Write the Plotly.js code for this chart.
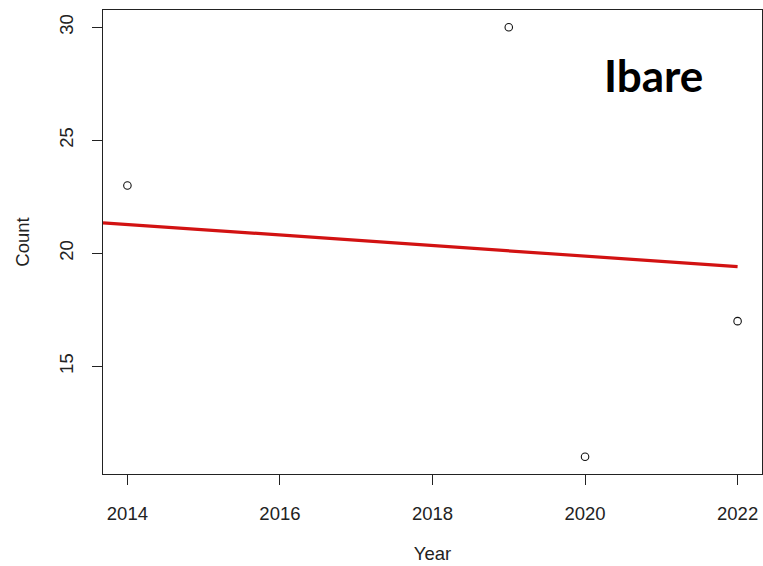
<!DOCTYPE html>
<html>
<head>
<meta charset="utf-8">
<script src="https://cdn.plot.ly/plotly-3.0.1.min.js"></script>
<style>html,body{margin:0;padding:0;background:#fff;}#chart{width:763px;height:566px;}</style>
</head>
<body>
<div id="chart"></div>
<script>
// Observed counts
const years = [2014, 2019, 2020, 2022];
const counts = [23, 30, 11, 17];
// Fitted trend line
const trendYears = [2013.68, 2022];
const trendCounts = [21.35, 19.41];
// Ticks
const xTicks = [2014, 2016, 2018, 2020, 2022];
const yTicks = [15, 20, 25, 30];
const siteLabel = "Ibare";

const traces = [
  {
    x: trendYears, y: trendCounts, mode: 'lines', type: 'scatter',
    line: {color: 'rgb(210,18,18)', width: 3.2}, hoverinfo: 'skip', showlegend: false
  },
  {
    x: years, y: counts, mode: 'markers', type: 'scatter',
    marker: {symbol: 'circle-open', size: 7.5, color: '#111', line: {width: 1.1, color: '#111'}},
    showlegend: false, cliponaxis: false
  }
];

const axisFont = {family: 'Liberation Sans, Arial, sans-serif', size: 18.5, color: '#222'};

const layout = {
  width: 763, height: 566,
  margin: {l: 103, r: 1, t: 10, b: 92},
  paper_bgcolor: '#fff', plot_bgcolor: '#fff',
  showlegend: false,
  xaxis: {
    range: [2013.68, 2022.32],
    tickvals: xTicks, ticktext: xTicks.map(String),
    ticks: 'outside', ticklen: 10, tickwidth: 1, tickcolor: '#222',
    showgrid: false, zeroline: false,
    showline: true, linecolor: '#222', linewidth: 1, mirror: true,
    tickfont: axisFont, ticklabelstandoff: 13,
    title: {text: 'Year', font: axisFont, standoff: 23}
  },
  yaxis: {
    range: [10.24, 30.76],
    tickvals: yTicks, ticktext: yTicks.map(String),
    ticks: 'outside', ticklen: 10, tickwidth: 1, tickcolor: '#222',
    tickangle: -90,
    showgrid: false, zeroline: false,
    showline: true, linecolor: '#222', linewidth: 1, mirror: true,
    tickfont: axisFont, ticklabelstandoff: 12,
    title: {text: 'Count', font: axisFont, standoff: 21}
  },
  annotations: [{
    text: '<b>' + siteLabel + '</b>',
    xref: 'paper', yref: 'paper',
    x: 0.836, y: 0.86, xanchor: 'center', yanchor: 'middle',
    showarrow: false,
    font: {family: 'Lato, Open Sans, sans-serif', size: 44, color: '#000'}
  }]
};

Plotly.newPlot('chart', traces, layout, {displayModeBar: false, staticPlot: true});
</script>
</body>
</html>
